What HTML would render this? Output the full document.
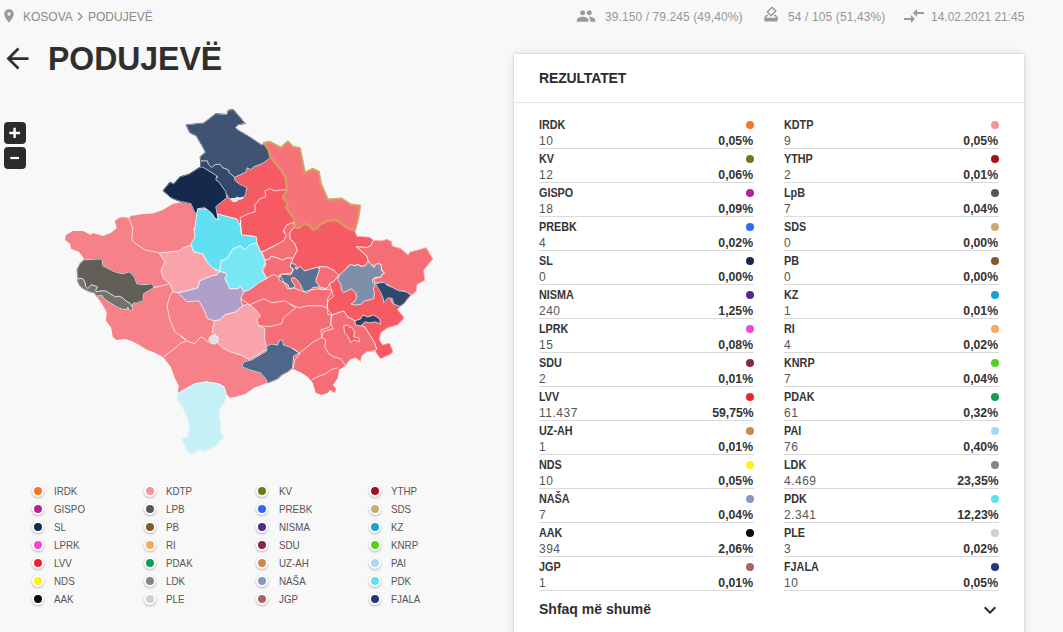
<!DOCTYPE html>
<html lang="sq"><head><meta charset="utf-8"><title>PODUJEVË</title>
<style>
*{box-sizing:border-box;margin:0;padding:0}
html,body{width:1063px;height:632px;overflow:hidden;background:#f8f8f8;font-family:"Liberation Sans",sans-serif;color:#333}
body{position:relative}
.abs{position:absolute}
.crumb{position:absolute;left:22px;top:10px;font-size:12px;color:#8a8a8a;white-space:nowrap;line-height:14px}
.crumb b{font-weight:normal;display:inline-block}
.stat{position:absolute;top:9.500px;font-size:12px;color:#969696;white-space:nowrap;line-height:14px}
h1{position:absolute;left:48px;top:38px;font-size:34px;line-height:40px;font-weight:bold;color:#2f2f2f;white-space:nowrap;transform-origin:0 0;transform:scaleX(0.94)}
.card{position:absolute;left:514px;top:54px;width:510px;height:600px;background:#fff;box-shadow:0 0 2px rgba(0,0,0,.2),0 0 9px rgba(0,0,0,.10)}
.ttl{position:absolute;left:539px;top:69.500px;letter-spacing:-0.15px;font-size:14px;line-height:16px;font-weight:bold;color:#2b2b2b;white-space:nowrap}
.hr{position:absolute;left:514px;top:102px;width:510px;height:1px;background:#e2e2e2}
.it{position:absolute;width:215px;height:34px;border-bottom:1px solid #dadada}
.it span{position:absolute;font-size:12px;line-height:14px;white-space:nowrap}
.nm{left:0;top:3px;font-weight:bold;color:#363636;transform-origin:0 50%;transform:scaleX(0.9)}
.vl{left:0;top:19px;color:#555;letter-spacing:0.5px}
.pc{right:0.5px;top:19px;font-weight:bold;color:#333;transform-origin:100% 50%;transform:scaleX(1.02)}
.dt{position:absolute;right:0;top:6px;width:8px;height:8px;border-radius:50%}
.more{position:absolute;left:539px;top:600px;font-size:14px;line-height:18px;font-weight:bold;color:#2e2e2e;white-space:nowrap}
.lg{position:absolute;height:16px;white-space:nowrap}
.lg i{position:absolute;top:2px;width:12px;height:12px;border-radius:50%;border:2px solid #fff;box-shadow:0 1px 2.500px rgba(0,0,0,.28)}
.lg span{position:absolute;top:1px;font-size:11px;line-height:14px;color:#555;transform-origin:0 50%;transform:scaleX(0.89)}
.zb{position:absolute;left:4px;width:22px;height:22px;border-radius:4px;background:#2b2b2b;color:#fff}
</style></head><body>
<!-- top bar -->
<svg class="abs" style="left:1.1px;top:7.8px" width="16" height="16" viewBox="0 0 24 24"><path fill="#9a9a9a" d="M12 2C8.130 2 5 5.130 5 9c0 5.250 7 13 7 13s7-7.750 7-13c0-3.870-3.130-7-7-7zm0 9.500a2.500 2.500 0 0 1 0-5 2.500 2.500 0 0 1 0 5z"/></svg>
<div class="crumb" style="left:23px">KOSOVA</div><svg class="abs" style="left:76px;top:11px" width="8" height="11" viewBox="0 0 8 11"><path d="M2 1.500l4 4-4 4" fill="none" stroke="#8e8e8e" stroke-width="1.300"/></svg><div class="crumb" style="left:88px">PODUJEVË</div>
<svg class="abs" style="left:576px;top:6.100px" width="20" height="20" viewBox="0 0 24 24"><path fill="#9a9a9a" d="M16 11c1.660 0 2.990-1.340 2.990-3S17.660 5 16 5c-1.660 0-3 1.340-3 3s1.340 3 3 3zm-8 0c1.660 0 2.990-1.340 2.990-3S9.660 5 8 5C6.340 5 5 6.340 5 8s1.340 3 3 3zm0 2c-2.330 0-7 1.170-7 3.500V19h14v-2.500c0-2.330-4.670-3.500-7-3.500zm8 0c-.29 0-.62.020-.97.050 1.160.84 1.970 1.970 1.970 3.450V19h6v-2.500c0-2.330-4.670-3.500-7-3.500z"/></svg>
<svg class="abs" style="left:762px;top:5.300px" width="18" height="18" viewBox="0 0 24 24"><path fill="#9a9a9a" d="M18 13h-.68l-2 2h1.910L19 17H5l1.780-2h2.050l-2-2H6l-3 3v4c0 1.100.89 2 1.990 2H19c1.100 0 2-.89 2-2v-4l-3-3zm-1-5.050l-4.950 4.950-3.540-3.540 4.950-4.950L17 7.950zm-4.240-5.660L6.390 8.660c-.39.39-.39 1.020 0 1.410l4.950 4.950c.39.39 1.020.39 1.410 0l6.360-6.360c.39-.39.39-1.020 0-1.410L14.160 2.300c-.38-.4-1.010-.4-1.400-.01z"/></svg>
<svg class="abs" style="left:902px;top:4.100px" width="24" height="24" viewBox="0 0 24 24"><path fill="#9a9a9a" d="M9.010 14H2v2h7.010v3L13 15l-3.990-4v3zm5.980-1v-3H22V8h-7.010V5L11 9l3.990 4z"/></svg>
<div class="stat" style="left:605px;letter-spacing:0.09px">39.150 / 79.245 (49,40%)</div>
<div class="stat" style="left:788px;letter-spacing:0.12px">54 / 105 (51,43%)</div>
<div class="stat" style="left:931px">14.02.2021 21:45</div>
<h1>PODUJEVË</h1>
<svg class="abs" style="left:1.3px;top:41.9px" width="33" height="33" viewBox="0 0 24 24"><path fill="#2f2f2f" d="M20 11H7.830l5.590-5.590L12 4l-8 8 8 8 1.410-1.410L7.830 13H20v-2z"/></svg>
<!-- zoom buttons -->
<div class="zb" style="top:122px"><svg width="22" height="22"><path d="M5.300 11h10.800M10.600 5.700v10.400" stroke="#fff" stroke-width="2.400"/></svg></div>
<div class="zb" style="top:147px"><svg width="22" height="22"><path d="M6.300 11h8.700" stroke="#fff" stroke-width="2.200"/></svg></div>
<!-- map -->
<svg class="abs" style="left:0;top:0" width="500" height="470" viewBox="0 0 500 470">
<defs><clipPath id="sil"><path d="M185.9,124.9 L203.8,122.9 L215.8,113.6 L226.8,114.4 L228.2,110 L233.4,109.6 L245.3,123.5 L237.8,124.9 L235.4,127.9 L237.8,129.9 L249.7,136.9 L261.7,144.9 L263.9,143 L269.9,142 L280.9,147.9 L287.9,141.6 L292.9,147 L299.8,148.3 L304.8,172.9 L312.8,168.9 L318.8,171.9 L320.8,183.8 L327.8,199.8 L341.7,198.8 L350.7,204.8 L360.1,205.8 L357.7,219.7 L354.7,230.7 L357,236.3 L369.1,237 L373.6,240 L381.1,240.8 L387.1,239.3 L391.6,241.5 L392.4,246 L400.6,248.3 L408.1,255.1 L409.6,252 L426.2,247.5 L432.9,258.8 L423.9,270.1 L424.7,280.6 L417.2,284.4 L416.4,291.1 L411.9,294.9 L406.6,300.1 L400.6,306.1 L397.6,309.7 L403.5,316.7 L403.6,318.9 L397.6,324.9 L387.6,327.9 L380.6,332.9 L379.6,339.9 L382.6,344.9 L389.6,342.9 L393.2,351.9 L389.6,354.8 L380.6,358.8 L374.7,350.9 L366.7,351.9 L361.7,355.8 L360.7,361.8 L355.7,357.8 L349.7,359.8 L345.7,365.8 L338.8,369.8 L337.8,377.8 L332.8,384.8 L335.8,388.8 L334.8,392.7 L329.8,389.7 L327.8,392.7 L321.8,394.7 L315.8,392.7 L312.8,382.8 L307.8,376.8 L299.9,371.8 L292.9,368.8 L287.9,371.8 L281.9,374.8 L277.9,378.8 L267,382.8 L261.7,384.9 L253.7,387.9 L245.7,393.8 L235.8,396.8 L229.8,397.8 L225.8,392.9 L224.8,401.8 L219.8,408.8 L218.8,416.8 L220.8,423.8 L219.8,431.7 L223.8,436.7 L217.8,443.7 L208.8,449.7 L204.8,451.7 L199.9,449.7 L190.9,453.7 L186.9,450.7 L182.9,441.7 L181.9,438.7 L187.9,436.7 L189.9,427.8 L186.9,415.8 L181.9,405.8 L176.9,398.8 L177.9,393.5 L178.7,385.7 L174.7,377.8 L170.7,366.8 L163.7,357.8 L160.7,355.8 L152.7,351.8 L146.7,349.8 L138.8,344.8 L131.8,340.9 L124.8,338.9 L116.8,339.9 L112.8,336.9 L111.1,327.4 L105.9,320.5 L106.8,312.6 L101.5,303.1 L96.6,296.2 L94.3,292.8 L89,291.7 L83.7,289 L79.9,286 L77.6,281.4 L78,279 L76.9,269.8 L79.9,263.8 L83.9,259.8 L82.9,256.8 L78.9,251.8 L71,248.8 L70,243.8 L65,239.9 L66,234.9 L72.9,230.9 L82.9,230.9 L90.9,234.9 L92.9,232.9 L102.9,235.9 L110.8,232.9 L116.8,227.9 L114.8,220.9 L118.8,217.9 L122.8,216.9 L128.8,217.9 L130.8,215.9 L142.8,213.9 L152.7,213.5 L162.7,209.9 L172.7,204 L182.6,202 L190.9,203.7 L177.9,200.7 L170.9,197.7 L163,190.7 L169.9,182.2 L173.9,183.8 L179.9,176.8 L188.9,174.2 L198.9,167.8 L202.3,166.8 L200.9,159.8 L199.9,156.8 L205.4,152.3 L202.3,146.3 L197.9,138.9 L196.3,135.9 L189.9,132.9Z"/></clipPath></defs>
<path d="M185.9,124.9 L203.8,122.9 L215.8,113.6 L226.8,114.4 L228.2,110 L233.4,109.6 L245.3,123.5 L237.8,124.9 L235.4,127.9 L237.8,129.9 L249.7,136.9 L261.7,144.9 L263.9,143 L269.9,142 L280.9,147.9 L287.9,141.6 L292.9,147 L299.8,148.3 L304.8,172.9 L312.8,168.9 L318.8,171.9 L320.8,183.8 L327.8,199.8 L341.7,198.8 L350.7,204.8 L360.1,205.8 L357.7,219.7 L354.7,230.7 L357,236.3 L369.1,237 L373.6,240 L381.1,240.8 L387.1,239.3 L391.6,241.5 L392.4,246 L400.6,248.3 L408.1,255.1 L409.6,252 L426.2,247.5 L432.9,258.8 L423.9,270.1 L424.7,280.6 L417.2,284.4 L416.4,291.1 L411.9,294.9 L406.6,300.1 L400.6,306.1 L397.6,309.7 L403.5,316.7 L403.6,318.9 L397.6,324.9 L387.6,327.9 L380.6,332.9 L379.6,339.9 L382.6,344.9 L389.6,342.9 L393.2,351.9 L389.6,354.8 L380.6,358.8 L374.7,350.9 L366.7,351.9 L361.7,355.8 L360.7,361.8 L355.7,357.8 L349.7,359.8 L345.7,365.8 L338.8,369.8 L337.8,377.8 L332.8,384.8 L335.8,388.8 L334.8,392.7 L329.8,389.7 L327.8,392.7 L321.8,394.7 L315.8,392.7 L312.8,382.8 L307.8,376.8 L299.9,371.8 L292.9,368.8 L287.9,371.8 L281.9,374.8 L277.9,378.8 L267,382.8 L261.7,384.9 L253.7,387.9 L245.7,393.8 L235.8,396.8 L229.8,397.8 L225.8,392.9 L224.8,401.8 L219.8,408.8 L218.8,416.8 L220.8,423.8 L219.8,431.7 L223.8,436.7 L217.8,443.7 L208.8,449.7 L204.8,451.7 L199.9,449.7 L190.9,453.7 L186.9,450.7 L182.9,441.7 L181.9,438.7 L187.9,436.7 L189.9,427.8 L186.9,415.8 L181.9,405.8 L176.9,398.8 L177.9,393.5 L178.7,385.7 L174.7,377.8 L170.7,366.8 L163.7,357.8 L160.7,355.8 L152.7,351.8 L146.7,349.8 L138.8,344.8 L131.8,340.9 L124.8,338.9 L116.8,339.9 L112.8,336.9 L111.1,327.4 L105.9,320.5 L106.8,312.6 L101.5,303.1 L96.6,296.2 L94.3,292.8 L89,291.7 L83.7,289 L79.9,286 L77.6,281.4 L78,279 L76.9,269.8 L79.9,263.8 L83.9,259.8 L82.9,256.8 L78.9,251.8 L71,248.8 L70,243.8 L65,239.9 L66,234.9 L72.9,230.9 L82.9,230.9 L90.9,234.9 L92.9,232.9 L102.9,235.9 L110.8,232.9 L116.8,227.9 L114.8,220.9 L118.8,217.9 L122.8,216.9 L128.8,217.9 L130.8,215.9 L142.8,213.9 L152.7,213.5 L162.7,209.9 L172.7,204 L182.6,202 L190.9,203.7 L177.9,200.7 L170.9,197.7 L163,190.7 L169.9,182.2 L173.9,183.8 L179.9,176.8 L188.9,174.2 L198.9,167.8 L202.3,166.8 L200.9,159.8 L199.9,156.8 L205.4,152.3 L202.3,146.3 L197.9,138.9 L196.3,135.9 L189.9,132.9Z" fill="#f78188"/>
<path d="M185.9,124.9 L203.8,122.9 L215.8,113.6 L226.8,114.4 L228.2,110 L233.4,109.6 L245.3,123.5 L237.8,124.9 L235.4,127.9 L237.8,129.9 L249.7,136.9 L261.7,144.9 L266.1,143.5 L271.1,150.5 L271.3,157 L262.7,163.4 L253.7,166.8 L250.7,169.8 L247.3,167.8 L245.7,172.2 L235.8,176.8 L234.4,177.1 L229.2,172.8 L228.2,169.9 L222.5,167.6 L219.7,164.2 L215.4,164.7 L211.6,167.6 L208.3,164.2 L207.3,160.9 L200.7,160.9 L199.9,156.8 L205.4,152.3 L202.3,146.3 L197.9,138.9 L196.3,135.9 L189.9,132.9Z" fill="#3f5372" stroke="#3f5372" stroke-width="0.7" stroke-linejoin="round"/>
<path d="M200.7,160.9 L207.3,160.9 L208.3,164.2 L211.6,167.6 L215.4,164.7 L219.7,164.2 L222.5,167.6 L228.2,169.9 L229.2,172.8 L234.4,177.1 L234.9,180.4 L239.6,184.2 L246.8,187.5 L245.8,193.2 L244.4,197 L241.5,199.4 L236.8,197.5 L234.9,198.4 L230.1,198.9 L227.8,197 L227.3,195.1 L222.5,192.3 L218.3,185.1 L214.9,180.4 L217.8,176.6 L200.7,166.6Z" fill="#34486b" stroke="#34486b" stroke-width="0.7" stroke-linejoin="round"/>
<path d="M202.3,166.8 L216.8,175.8 L215.8,179.8 L218.8,181.8 L225.8,191.7 L226.8,197.7 L215.8,206.7 L217.8,217.7 L216.8,219.7 L209.8,213.7 L204.8,207.7 L197.9,208.7 L197.5,212.7 L194.9,212.7 L190.9,203.7 L177.9,200.7 L170.9,197.7 L163,190.7 L169.9,182.2 L173.9,183.8 L179.9,176.8 L188.9,174.2 L198.9,167.8Z" fill="#15294d" stroke="#15294d" stroke-width="0.7" stroke-linejoin="round"/>
<path d="M83.9,259.8 L101.9,258.8 L102.9,265.8 L114.8,271.8 L122.8,273.8 L129.8,271.8 L134.8,277.8 L136.8,283.7 L143.8,284.7 L152.7,283.7 L153.7,287.7 L143.8,293.7 L142.8,301.7 L138.4,301.9 L136.9,303.4 L134.6,302.7 L132.3,304.2 L133.1,309.1 L132.3,307.2 L130,303.4 L126.2,301.2 L122.4,297.7 L118.6,296.2 L115.6,297 L110.3,293.9 L105.7,290.9 L102.7,290.9 L96.2,291.7 L95.5,289.8 L97.7,287.1 L95.8,286.3 L91.3,284.8 L87.9,288.6 L85.6,286.3 L84.8,282.2 L82.9,278.7 L79.1,278.4 L78,279 L76.9,269.8 L79.9,263.8Z" fill="#615f57" stroke="#615f57" stroke-width="0.7" stroke-linejoin="round"/>
<path d="M78,279 L79.1,278.4 L82.9,278.7 L84.8,282.2 L85.6,286.3 L87.9,288.6 L91.3,284.8 L95.8,286.3 L97.7,287.1 L95.5,289.8 L96.2,291.7 L102.7,290.9 L105.7,290.9 L110.3,293.9 L115.6,297 L118.6,296.2 L122.4,297.7 L126.2,301.2 L130,303.4 L132.3,307.2 L133.1,309.1 L130,311.4 L127.8,307.2 L127,309.5 L123.2,309.5 L117.1,307.2 L111,303.4 L105,299.6 L101.9,295.5 L96.6,296.2 L94.3,292.8 L89,291.7 L83.7,289 L79.9,286 L77.6,281.4Z" fill="#73726c" stroke="#73726c" stroke-width="0.7" stroke-linejoin="round"/>
<path d="M177.9,393.5 L183.9,389.9 L194.9,383.9 L205.8,381.9 L218.8,383.9 L223.8,386.9 L225.8,392.9 L224.8,401.8 L219.8,408.8 L218.8,416.8 L220.8,423.8 L219.8,431.7 L223.8,436.7 L217.8,443.7 L208.8,449.7 L204.8,451.7 L199.9,449.7 L190.9,453.7 L186.9,450.7 L182.9,441.7 L181.9,438.7 L187.9,436.7 L189.9,427.8 L186.9,415.8 L181.9,405.8 L176.9,398.8 L177.9,393.5Z" fill="#c5f0f8" stroke="#c5f0f8" stroke-width="0.7" stroke-linejoin="round"/>
<path d="M241.7,366.9 L243.7,361.9 L251.7,359.9 L261.7,354 L266.7,351 L266.7,346 L271.7,344 L277.6,345 L279.6,340 L282.6,340 L283.6,345 L289.6,347 L299.6,353 L293.6,356 L292.6,367.9 L287.6,371.9 L281.6,374.9 L277.6,378.9 L267.7,382.9 L265.7,378.9 L260.7,372.9 L249.7,369.9Z" fill="#50658a" stroke="#50658a" stroke-width="0.7" stroke-linejoin="round"/>
<path d="M375.3,283.6 L380.4,282.8 L384.7,282.4 L386.4,284.9 L393.2,287.9 L399.2,290.9 L403.5,291.3 L407.4,292.6 L410.8,295.2 L406.9,299.4 L403.5,303.7 L399.7,306.3 L396.2,305 L393.7,303.7 L392.4,298.6 L389,297.7 L386.8,298.6 L383.8,302.9 L383,297.7 L380.4,291.8 L377.9,287.9Z" fill="#2f486b" stroke="#2f486b" stroke-width="0.7" stroke-linejoin="round"/>
<g clip-path="url(#sil)" stroke="#fff" stroke-width="0.9" stroke-linejoin="round" stroke-opacity="0.8">
<path d="M225,200 L228,245 L243,272 L222,300 L236,335 L268,362 L272,400 L470,400 L470,100 L225,100Z" fill="#f66e75"/>
<path d="M269.7,156.8 L269.9,155.9 L280.9,169.9 L285.9,177.9 L286.9,189.8 L282.9,197.8 L287.9,203.8 L285.9,206.8 L288.9,211.8 L293.8,217.8 L294.8,222.7 L287.9,224.7 L282.9,231.7 L287.9,234.7 L282.9,241.7 L263.9,250.7 L260.7,251.9 L256.7,242.9 L253.7,236 L240.7,235 L240.7,220 L240.5,225.9 L236.5,218.9 L224.5,215.9 L217.5,213.9 L217.8,217.7 L215.8,206.7 L226.8,197.7 L229.8,179.8 L235.8,176.8 L245.7,172.2 L247.3,167.8 L250.7,169.8 L253.7,166.8 L262.7,163.4Z" fill="#f65a63"/>
<path d="M294.8,222.7 L295.8,227.7 L299.8,227.7 L303.8,223.7 L308.8,224.7 L312.8,229.7 L316.8,228.7 L319.8,224.7 L327.8,220.7 L335.7,219.7 L348.7,228.7 L354.7,230.7 L357,236.3 L369.1,237 L373.6,240 L370.6,246 L366.8,247.5 L356.3,246.8 L366.8,255.8 L368.3,261.1 L367.6,264.8 L362.3,266.3 L357,264.1 L354.8,265.6 L349.5,264.8 L338.3,278.3 L334.1,270.6 L326.6,266.8 L319.1,266.8 L316.1,267.6 L309.4,269.8 L303.3,271.3 L300.3,266.8 L295.1,269.1 L295.8,266.8 L293.6,263.8 L290.6,264.6 L292.8,258.6 L294.3,255.6 L297.3,250.3 L294.3,242.8 L289.8,239 L289.8,232.3 L295.1,226.3 L292.8,222.5Z" fill="#f65a63"/>
<path d="M338.7,275.1 L334.1,281.1 L329.6,283.4 L331.9,291.6 L327.4,299.1 L327.8,314 L331.8,315 L343.7,311 L347.7,317 L353.7,319.9 L358.7,324.9 L364.7,326.9 L369.7,334.9 L374.7,342.9 L376.6,348.9 L374.7,350.9 L380.6,358.8 L389.6,354.8 L393.2,351.9 L389.6,342.9 L382.6,344.9 L379.6,339.9 L380.6,332.9 L387.6,327.9 L397.6,324.9 L403.6,318.9 L403.5,316.7 L397.6,309.7 L400.6,306.1 L393.1,303.9 L381.8,282.1 L375.1,274.6 L360.1,270.1Z" fill="#f65a63"/>
<path d="M286.8,224.8 L292.8,222.5 L295.1,226.3 L289.8,232.3 L289.8,239 L294.3,242.8 L297.3,250.3 L294.3,255.6 L292.8,258.6 L287.6,257.8 L282.3,260.1 L277,257.8 L271,256.3 L269.5,259.3 L265,260.1 L262,251.8 L265,251.1 L283.8,240.5 L286.1,236 L283.8,230Z" fill="#f66e75"/>
<path d="M265,260.1 L269.5,259.3 L271,256.3 L277,257.8 L282.3,260.1 L287.6,257.8 L292.8,258.6 L290.6,264.6 L292.8,268.3 L292.1,272.9 L280.1,274.4 L278.5,277.4 L274,274.4 L266.5,278.1 L262.8,270.6 L265.8,265.3Z" fill="#f66e75"/>
<path d="M319.1,266.8 L326.6,266.8 L334.1,270.6 L338.7,275.1 L334.1,281.1 L329.6,283.4 L328.1,287.1 L325.1,288.9 L320.6,287.9 L316.9,284.9 L315.4,280.4 L316.9,275.1 L319.1,269.1Z" fill="#f66e75"/>
<path d="M356.3,246.8 L366.8,247.5 L370.6,246 L373.6,240 L381.1,240.8 L387.1,239.3 L391.6,241.5 L392.4,246 L400.6,248.3 L408.1,255.1 L409.6,252 L426.2,247.5 L432.9,258.8 L423.9,270.1 L424.7,280.6 L417.2,284.4 L416.4,291.1 L411.9,294.9 L403.6,290.4 L397.6,291.1 L390.1,285.9 L381.8,282.1 L375.1,282.9 L373.6,279.1 L381.1,276.8 L381.8,273.8 L384.1,273.1 L381.1,268.6 L381.1,264.1 L376.6,264.1 L375.1,265.6 L370.6,264.8 L368.3,261.1 L366.8,255.8Z" fill="#f66e75"/>
<path d="M331.8,315 L343.7,311 L347.7,317 L353.7,319.9 L358.7,324.9 L364.7,326.9 L369.7,334.9 L374.7,342.9 L376.6,348.9 L374.7,350.9 L366.7,351.9 L361.7,355.8 L360.7,361.8 L355.7,357.8 L349.7,359.8 L345.7,365.8 L340.7,358.8 L333.8,356.8 L328.8,353.8 L324.8,346.9 L325.8,339.9 L321.8,336.9 L320.8,329.9 L327.8,327.9 L330.8,324.9Z" fill="#f66e75"/>
<path d="M343.7,325.9 L347.7,324.9 L349.7,327.9 L351.7,326.9 L354.7,331.9 L353.7,336.9 L358.7,337.9 L359.7,341.9 L353.7,339.9 L350.7,342.9 L347.7,335.9 L344.7,332.9Z" fill="#f65a63"/>
<path d="M159,252.9 L168.9,251.9 L178.9,250.9 L182.9,247.9 L190.9,244.9 L193.9,251.9 L202.9,253.9 L207.8,262.9 L214.8,269.9 L219.8,271.5 L216.8,274.8 L211.8,275.8 L199.9,280.8 L197.9,287.8 L182.9,291.8 L177.9,292.8 L172.9,291.8 L169.9,283.8 L163,277.8 L161,269.9 L165,261.9Z" fill="#f9a4aa"/>
<path d="M213.8,320.7 L219.8,319.7 L224.8,314.7 L235.8,311.7 L242.7,305.8 L247.7,303.8 L253.7,307.8 L260.7,315.7 L256.7,319.7 L258.7,325.7 L264.7,328.7 L264.7,339.7 L267,349.8 L262.4,351.8 L249.5,359.8 L242.5,355.8 L230.5,351.8 L222.5,347.8 L217.5,342.9 L217.5,336.9 L212.6,332.9 L212.6,327.9 L214.6,320.9Z" fill="#f9a4aa"/>
<path d="M185.9,124.9 L203.8,122.9 L215.8,113.6 L226.8,114.4 L228.2,110 L233.4,109.6 L245.3,123.5 L237.8,124.9 L235.4,127.9 L237.8,129.9 L249.7,136.9 L261.7,144.9 L266.1,143.5 L271.1,150.5 L271.3,157 L262.7,163.4 L253.7,166.8 L250.7,169.8 L247.3,167.8 L245.7,172.2 L235.8,176.8 L234.4,177.1 L229.2,172.8 L228.2,169.9 L222.5,167.6 L219.7,164.2 L215.4,164.7 L211.6,167.6 L208.3,164.2 L207.3,160.9 L200.7,160.9 L199.9,156.8 L205.4,152.3 L202.3,146.3 L197.9,138.9 L196.3,135.9 L189.9,132.9Z" fill="#3f5372" stroke="#3f5372" stroke-width="1" stroke-opacity="1"/>
<path d="M185.9,124.9 L203.8,122.9 L215.8,113.6 L226.8,114.4 L228.2,110 L233.4,109.6 L245.3,123.5 L237.8,124.9 L235.4,127.9 L237.8,129.9 L249.7,136.9 L261.7,144.9 L266.1,143.5 L271.1,150.5 L271.3,157 L262.7,163.4 L253.7,166.8 L250.7,169.8 L247.3,167.8 L245.7,172.2 L235.8,176.8 L234.4,177.1 L229.2,172.8 L228.2,169.9 L222.5,167.6 L219.7,164.2 L215.4,164.7 L211.6,167.6 L208.3,164.2 L207.3,160.9 L200.7,160.9 L199.9,156.8 L205.4,152.3 L202.3,146.3 L197.9,138.9 L196.3,135.9 L189.9,132.9Z" fill="#3f5372"/>
<path d="M200.7,160.9 L207.3,160.9 L208.3,164.2 L211.6,167.6 L215.4,164.7 L219.7,164.2 L222.5,167.6 L228.2,169.9 L229.2,172.8 L234.4,177.1 L234.9,180.4 L239.6,184.2 L246.8,187.5 L245.8,193.2 L244.4,197 L241.5,199.4 L236.8,197.5 L234.9,198.4 L230.1,198.9 L227.8,197 L227.3,195.1 L222.5,192.3 L218.3,185.1 L214.9,180.4 L217.8,176.6 L200.7,166.6Z" fill="#34486b" stroke="#34486b" stroke-width="1" stroke-opacity="1"/>
<path d="M200.7,160.9 L207.3,160.9 L208.3,164.2 L211.6,167.6 L215.4,164.7 L219.7,164.2 L222.5,167.6 L228.2,169.9 L229.2,172.8 L234.4,177.1 L234.9,180.4 L239.6,184.2 L246.8,187.5 L245.8,193.2 L244.4,197 L241.5,199.4 L236.8,197.5 L234.9,198.4 L230.1,198.9 L227.8,197 L227.3,195.1 L222.5,192.3 L218.3,185.1 L214.9,180.4 L217.8,176.6 L200.7,166.6Z" fill="#34486b"/>
<path d="M202.3,166.8 L216.8,175.8 L215.8,179.8 L218.8,181.8 L225.8,191.7 L226.8,197.7 L215.8,206.7 L217.8,217.7 L216.8,219.7 L209.8,213.7 L204.8,207.7 L197.9,208.7 L197.5,212.7 L194.9,212.7 L190.9,203.7 L177.9,200.7 L170.9,197.7 L163,190.7 L169.9,182.2 L173.9,183.8 L179.9,176.8 L188.9,174.2 L198.9,167.8Z" fill="#15294d" stroke="#15294d" stroke-width="1" stroke-opacity="1"/>
<path d="M202.3,166.8 L216.8,175.8 L215.8,179.8 L218.8,181.8 L225.8,191.7 L226.8,197.7 L215.8,206.7 L217.8,217.7 L216.8,219.7 L209.8,213.7 L204.8,207.7 L197.9,208.7 L197.5,212.7 L194.9,212.7 L190.9,203.7 L177.9,200.7 L170.9,197.7 L163,190.7 L169.9,182.2 L173.9,183.8 L179.9,176.8 L188.9,174.2 L198.9,167.8Z" fill="#15294d"/>
<path d="M197.6,208.9 L206.6,208.9 L212.6,213.9 L214.6,217.9 L218.5,219.9 L217.5,213.9 L224.5,215.9 L236.5,218.9 L240.5,225.9 L241.5,234.9 L256.4,236.9 L256.7,242.9 L249.7,244.9 L244.7,249.9 L240.7,245.9 L232.8,248.9 L229.8,253.9 L226.8,258.9 L220.8,260.9 L219.8,270.9 L213.8,268.9 L207.8,262.9 L202.9,253.9 L193.9,251.9 L190.9,243.9 L194.9,237 L193.9,228 L194.6,229.9Z" fill="#62e0f3"/>
<path d="M220.8,260.9 L226.8,258.9 L229.8,253.9 L232.8,248.9 L240.7,245.9 L244.7,249.9 L249.7,244.9 L256.7,242.9 L260.7,251.9 L265.7,262.9 L261.7,269.9 L266.7,278.8 L258.7,282.8 L249.7,289.8 L243.7,291.8 L240.7,286.8 L237.8,288.8 L229.8,288.8 L224.8,278.8 L226.8,273.8 L219.8,270.9Z" fill="#79e8f6"/>
<path d="M177.9,292.8 L182.9,291.8 L197.9,287.8 L199.9,280.8 L211.8,275.8 L216.8,274.8 L219.8,271.5 L226.8,273.8 L224.8,278.8 L229.8,288.8 L237.8,288.8 L240.7,286.8 L243.7,291.8 L240.7,298.8 L242.7,305.8 L235.8,311.7 L224.8,314.7 L219.8,319.7 L213.8,320.7 L207.8,318.7 L202.9,307.8 L198.9,300.8 L186.9,301.8Z" fill="#b0a0c9"/>
<path d="M83.9,259.8 L101.9,258.8 L102.9,265.8 L114.8,271.8 L122.8,273.8 L129.8,271.8 L134.8,277.8 L136.8,283.7 L143.8,284.7 L152.7,283.7 L153.7,287.7 L143.8,293.7 L142.8,301.7 L138.4,301.9 L136.9,303.4 L134.6,302.7 L132.3,304.2 L133.1,309.1 L132.3,307.2 L130,303.4 L126.2,301.2 L122.4,297.7 L118.6,296.2 L115.6,297 L110.3,293.9 L105.7,290.9 L102.7,290.9 L96.2,291.7 L95.5,289.8 L97.7,287.1 L95.8,286.3 L91.3,284.8 L87.9,288.6 L85.6,286.3 L84.8,282.2 L82.9,278.7 L79.1,278.4 L78,279 L76.9,269.8 L79.9,263.8Z" fill="#615f57" stroke="#615f57" stroke-width="1" stroke-opacity="1"/>
<path d="M83.9,259.8 L101.9,258.8 L102.9,265.8 L114.8,271.8 L122.8,273.8 L129.8,271.8 L134.8,277.8 L136.8,283.7 L143.8,284.7 L152.7,283.7 L153.7,287.7 L143.8,293.7 L142.8,301.7 L138.4,301.9 L136.9,303.4 L134.6,302.7 L132.3,304.2 L133.1,309.1 L132.3,307.2 L130,303.4 L126.2,301.2 L122.4,297.7 L118.6,296.2 L115.6,297 L110.3,293.9 L105.7,290.9 L102.7,290.9 L96.2,291.7 L95.5,289.8 L97.7,287.1 L95.8,286.3 L91.3,284.8 L87.9,288.6 L85.6,286.3 L84.8,282.2 L82.9,278.7 L79.1,278.4 L78,279 L76.9,269.8 L79.9,263.8Z" fill="#615f57"/>
<path d="M78,279 L79.1,278.4 L82.9,278.7 L84.8,282.2 L85.6,286.3 L87.9,288.6 L91.3,284.8 L95.8,286.3 L97.7,287.1 L95.5,289.8 L96.2,291.7 L102.7,290.9 L105.7,290.9 L110.3,293.9 L115.6,297 L118.6,296.2 L122.4,297.7 L126.2,301.2 L130,303.4 L132.3,307.2 L133.1,309.1 L130,311.4 L127.8,307.2 L127,309.5 L123.2,309.5 L117.1,307.2 L111,303.4 L105,299.6 L101.9,295.5 L96.6,296.2 L94.3,292.8 L89,291.7 L83.7,289 L79.9,286 L77.6,281.4Z" fill="#73726c" stroke="#73726c" stroke-width="1" stroke-opacity="1"/>
<path d="M78,279 L79.1,278.4 L82.9,278.7 L84.8,282.2 L85.6,286.3 L87.9,288.6 L91.3,284.8 L95.8,286.3 L97.7,287.1 L95.5,289.8 L96.2,291.7 L102.7,290.9 L105.7,290.9 L110.3,293.9 L115.6,297 L118.6,296.2 L122.4,297.7 L126.2,301.2 L130,303.4 L132.3,307.2 L133.1,309.1 L130,311.4 L127.8,307.2 L127,309.5 L123.2,309.5 L117.1,307.2 L111,303.4 L105,299.6 L101.9,295.5 L96.6,296.2 L94.3,292.8 L89,291.7 L83.7,289 L79.9,286 L77.6,281.4Z" fill="#73726c"/>
<path d="M177.9,393.5 L183.9,389.9 L194.9,383.9 L205.8,381.9 L218.8,383.9 L223.8,386.9 L225.8,392.9 L224.8,401.8 L219.8,408.8 L218.8,416.8 L220.8,423.8 L219.8,431.7 L223.8,436.7 L217.8,443.7 L208.8,449.7 L204.8,451.7 L199.9,449.7 L190.9,453.7 L186.9,450.7 L182.9,441.7 L181.9,438.7 L187.9,436.7 L189.9,427.8 L186.9,415.8 L181.9,405.8 L176.9,398.8 L177.9,393.5Z" fill="#c5f0f8" stroke="#c5f0f8" stroke-width="1" stroke-opacity="1"/>
<path d="M177.9,393.5 L183.9,389.9 L194.9,383.9 L205.8,381.9 L218.8,383.9 L223.8,386.9 L225.8,392.9 L224.8,401.8 L219.8,408.8 L218.8,416.8 L220.8,423.8 L219.8,431.7 L223.8,436.7 L217.8,443.7 L208.8,449.7 L204.8,451.7 L199.9,449.7 L190.9,453.7 L186.9,450.7 L182.9,441.7 L181.9,438.7 L187.9,436.7 L189.9,427.8 L186.9,415.8 L181.9,405.8 L176.9,398.8 L177.9,393.5Z" fill="#c5f0f8"/>
<path d="M241.7,366.9 L243.7,361.9 L251.7,359.9 L261.7,354 L266.7,351 L266.7,346 L271.7,344 L277.6,345 L279.6,340 L282.6,340 L283.6,345 L289.6,347 L299.6,353 L293.6,356 L292.6,367.9 L287.6,371.9 L281.6,374.9 L277.6,378.9 L267.7,382.9 L265.7,378.9 L260.7,372.9 L249.7,369.9Z" fill="#50658a" stroke="#50658a" stroke-width="1" stroke-opacity="1"/>
<path d="M241.7,366.9 L243.7,361.9 L251.7,359.9 L261.7,354 L266.7,351 L266.7,346 L271.7,344 L277.6,345 L279.6,340 L282.6,340 L283.6,345 L289.6,347 L299.6,353 L293.6,356 L292.6,367.9 L287.6,371.9 L281.6,374.9 L277.6,378.9 L267.7,382.9 L265.7,378.9 L260.7,372.9 L249.7,369.9Z" fill="#50658a"/>
<path d="M290.3,265 L291.9,263.6 L295.3,264.3 L296.3,266.3 L295.3,268.3 L296.6,269.3 L300.3,266.3 L304.6,271 L309.9,269.3 L316.5,267.6 L319.5,268.3 L318.5,273 L316.5,277.6 L315.9,281.6 L317.9,284.3 L318.9,286.9 L323.2,287.9 L326.2,288.6 L323.2,289.6 L319.2,288.2 L316.5,287.2 L312.6,287.6 L310.6,290.2 L307.2,292.9 L304.6,292.2 L301.9,288.2 L300.3,284.3 L297.9,280.9 L295.3,278.3 L292.6,277.3 L291.3,278.6 L291.9,281.6 L294.6,284.9 L294.9,286.9 L291.3,289.2 L289.3,288.2 L288,284.6 L284.3,282.9 L282,281.6 L279,279.9 L279.3,277.3 L282.3,274.3 L286.6,274.6 L290.6,274.9 L292.3,272.3 L293.6,269.3 L292.6,268 L290.6,267.6Z" fill="#5a7090"/>
<path d="M337.7,279.8 L339,275.5 L350.5,264.4 L355.6,266.1 L356.9,264.4 L361.6,266.5 L365.9,265.3 L367.6,261.4 L370.2,263.1 L371.9,265.7 L374,267.8 L375.3,264.4 L379.1,263.5 L381.3,266.1 L381.3,270.4 L384.7,273.4 L381.7,274.2 L381.3,276.8 L374.4,277.6 L372.3,279.8 L372.7,282.4 L375.3,284.5 L373.2,289.2 L374.4,292.6 L373.6,298.6 L367.6,300.3 L363.8,301.2 L361.6,304.1 L355.6,305 L350.9,304.1 L354.8,301.2 L356.9,297.3 L355.6,292.6 L351.4,288.8 L343.7,292.6 L341.5,290 L341.1,284.9Z" fill="#7d8fa9"/>
<path d="M375.3,283.6 L380.4,282.8 L384.7,282.4 L386.4,284.9 L393.2,287.9 L399.2,290.9 L403.5,291.3 L407.4,292.6 L410.8,295.2 L406.9,299.4 L403.5,303.7 L399.7,306.3 L396.2,305 L393.7,303.7 L392.4,298.6 L389,297.7 L386.8,298.6 L383.8,302.9 L383,297.7 L380.4,291.8 L377.9,287.9Z" fill="#2f486b" stroke="#2f486b" stroke-width="1" stroke-opacity="1"/>
<path d="M375.3,283.6 L380.4,282.8 L384.7,282.4 L386.4,284.9 L393.2,287.9 L399.2,290.9 L403.5,291.3 L407.4,292.6 L410.8,295.2 L406.9,299.4 L403.5,303.7 L399.7,306.3 L396.2,305 L393.7,303.7 L392.4,298.6 L389,297.7 L386.8,298.6 L383.8,302.9 L383,297.7 L380.4,291.8 L377.9,287.9Z" fill="#2f486b"/>
<path d="M354.7,320.9 L360.7,318.9 L362.7,315 L367.7,317 L373.7,315 L379.6,318.9 L380.6,323.9 L375.6,321.9 L369.7,322.9 L364.7,321.9 L360.7,325.9 L355.7,324.9Z" fill="#2c4166"/>
<path d="M230.6,198.9 L233,201.8 L236.8,201.3 L238.7,199.4 L242.5,198.4 L243.4,197 L239.6,198 L236.8,197 L235.8,198.9 L233,198.4Z" fill="#cfeaf6"/>
<circle cx="213.6" cy="339.5" r="4.6" fill="#dfdfe6"/>
<path d="M286.9,189.8 L282.9,189.8 L274.9,190.8 L269.9,188.8 L264.9,190.8 L265.9,196.8 L259.9,198.8 L255,204.8 L255,211.8 L248,213.8 L240,217.8 L241.5,234.9" fill="none"/>
<path d="M128.8,217.9 L132.8,227.9 L131.8,239.9 L134.8,242.9 L144.7,249.8 L158.7,252.8" fill="none"/>
<path d="M153.7,287.7 L162.7,285.7 L169.7,283.7" fill="none"/>
<path d="M172.9,291.8 L169.9,295.8 L167,305.8 L169.9,319.7 L174.9,331.7 L185.9,339.7 L180.6,335.9 L186.6,340.9" fill="none"/>
<path d="M163.7,356.8 L176.7,346.8 L179.7,343.8 L186.6,340.9 L194.6,343.8 L200.6,336.9 L203.6,337.9 L208.6,342.9" fill="none"/>
<path d="M240.7,298.8 L242.7,299.8 L249.7,304.8 L256.7,301.8 L263.7,298.8 L271.7,302.8 L285.6,300.8 L289.6,303.8 L298.6,307.8 L307.6,305.8 L321.5,305.8 L326.5,307.8 L328.5,299.8 L333.5,296.8 L331.5,289.8 L319.5,288.8 L311.5,289.8 L303.6,291.8 L293.6,287.8 L287.6,288.8 L282.6,279.8 L279.6,274.8" fill="none"/>
<path d="M289.6,303.8 L295.6,307.8 L289.6,312.7 L283.6,317.7 L281.6,323.7 L269.7,326.7 L258.7,325.7" fill="none"/>
<path d="M326.5,307.8 L331.5,313.7 L330.5,323.7 L333.5,328.7 L323.5,331.7 L321.5,337.7 L313.5,341.7 L299.6,353" fill="none"/>
<path d="M311.5,379.9 L319.5,375.9 L325.5,373.9 L330.5,369.9 L337.5,367.9" fill="none"/>
<path d="M292.9,368.8 L294.9,359.8 L299.9,353.8 L292.9,347.9" fill="none"/>
</g>
<path d="M263.9,143 L269.9,142 L280.9,147.9 L287.9,141.6 L292.9,147 L299.8,148.3 L304.8,172.9 L312.8,168.9 L318.8,171.9 L320.8,183.8 L327.8,199.8 L341.7,198.8 L350.7,204.8 L360.1,205.8 L357.7,219.7 L354.7,230.7 L348.7,228.7 L335.7,219.7 L327.8,220.7 L319.8,224.7 L316.8,228.7 L312.8,229.7 L308.8,224.7 L303.8,223.7 L299.8,227.7 L295.8,227.7 L293.8,217.8 L288.9,211.8 L285.9,206.8 L287.9,203.8 L282.9,197.8 L286.9,189.8 L285.9,177.9 L280.9,169.9 L269.9,155.9 L268.9,150.9Z" fill="#f6737a" stroke="#d29f5e" stroke-width="2.400" stroke-opacity="0.85" stroke-linejoin="round"/>
</svg>
<!-- legend -->
<div class="lg" style="left:0;top:483px"><i style="left:32.1px;background:#f47721"></i><span style="left:54px">IRDK</span></div>
<div class="lg" style="left:0;top:501px"><i style="left:32.1px;background:#b5219b"></i><span style="left:54px">GISPO</span></div>
<div class="lg" style="left:0;top:519px"><i style="left:32.1px;background:#15294d"></i><span style="left:54px">SL</span></div>
<div class="lg" style="left:0;top:537px"><i style="left:32.1px;background:#ee48d8"></i><span style="left:54px">LPRK</span></div>
<div class="lg" style="left:0;top:555px"><i style="left:32.1px;background:#ee2430"></i><span style="left:54px">LVV</span></div>
<div class="lg" style="left:0;top:573px"><i style="left:32.1px;background:#fdf21c"></i><span style="left:54px">NDS</span></div>
<div class="lg" style="left:0;top:591px"><i style="left:32.1px;background:#0a0a0a"></i><span style="left:54px">AAK</span></div>
<div class="lg" style="left:0;top:483px"><i style="left:143.8px;background:#f0959b"></i><span style="left:166.2px">KDTP</span></div>
<div class="lg" style="left:0;top:501px"><i style="left:143.8px;background:#54565e"></i><span style="left:166.2px">LPB</span></div>
<div class="lg" style="left:0;top:519px"><i style="left:143.8px;background:#7d5a2c"></i><span style="left:166.2px">PB</span></div>
<div class="lg" style="left:0;top:537px"><i style="left:143.8px;background:#f7a85a"></i><span style="left:166.2px">RI</span></div>
<div class="lg" style="left:0;top:555px"><i style="left:143.8px;background:#0f9d58"></i><span style="left:166.2px">PDAK</span></div>
<div class="lg" style="left:0;top:573px"><i style="left:143.8px;background:#858585"></i><span style="left:166.2px">LDK</span></div>
<div class="lg" style="left:0;top:591px"><i style="left:143.8px;background:#cfcfcf"></i><span style="left:166.2px">PLE</span></div>
<div class="lg" style="left:0;top:483px"><i style="left:256.4px;background:#6b7a1c"></i><span style="left:278.7px">KV</span></div>
<div class="lg" style="left:0;top:501px"><i style="left:256.4px;background:#3366f5"></i><span style="left:278.7px">PREBK</span></div>
<div class="lg" style="left:0;top:519px"><i style="left:256.4px;background:#54298a"></i><span style="left:278.7px">NISMA</span></div>
<div class="lg" style="left:0;top:537px"><i style="left:256.4px;background:#8a2252"></i><span style="left:278.7px">SDU</span></div>
<div class="lg" style="left:0;top:555px"><i style="left:256.4px;background:#c8894a"></i><span style="left:278.7px">UZ-AH</span></div>
<div class="lg" style="left:0;top:573px"><i style="left:256.4px;background:#8399bd"></i><span style="left:278.7px">NAŠA</span></div>
<div class="lg" style="left:0;top:591px"><i style="left:256.4px;background:#a86464"></i><span style="left:278.7px">JGP</span></div>
<div class="lg" style="left:0;top:483px"><i style="left:369.0px;background:#a5101f"></i><span style="left:391.1px">YTHP</span></div>
<div class="lg" style="left:0;top:501px"><i style="left:369.0px;background:#c9aa72"></i><span style="left:391.1px">SDS</span></div>
<div class="lg" style="left:0;top:519px"><i style="left:369.0px;background:#1a9fd6"></i><span style="left:391.1px">KZ</span></div>
<div class="lg" style="left:0;top:537px"><i style="left:369.0px;background:#55cf22"></i><span style="left:391.1px">KNRP</span></div>
<div class="lg" style="left:0;top:555px"><i style="left:369.0px;background:#a9d8f2"></i><span style="left:391.1px">PAI</span></div>
<div class="lg" style="left:0;top:573px"><i style="left:369.0px;background:#5fe1f2"></i><span style="left:391.1px">PDK</span></div>
<div class="lg" style="left:0;top:591px"><i style="left:369.0px;background:#24367a"></i><span style="left:391.1px">FJALA</span></div>
<!-- card -->
<div class="card"></div>
<div class="ttl">REZULTATET</div>
<div class="hr"></div>
<div class="it" style="left:539px;top:115px"><span class="nm">IRDK</span><i class="dt" style="background:#f47721"></i><span class="vl">10</span><span class="pc">0,05%</span></div>
<div class="it" style="left:539px;top:149px"><span class="nm">KV</span><i class="dt" style="background:#6b7a1c"></i><span class="vl">12</span><span class="pc">0,06%</span></div>
<div class="it" style="left:539px;top:183px"><span class="nm">GISPO</span><i class="dt" style="background:#b5219b"></i><span class="vl">18</span><span class="pc">0,09%</span></div>
<div class="it" style="left:539px;top:217px"><span class="nm">PREBK</span><i class="dt" style="background:#3366f5"></i><span class="vl">4</span><span class="pc">0,02%</span></div>
<div class="it" style="left:539px;top:251px"><span class="nm">SL</span><i class="dt" style="background:#15294d"></i><span class="vl">0</span><span class="pc">0,00%</span></div>
<div class="it" style="left:539px;top:285px"><span class="nm">NISMA</span><i class="dt" style="background:#54298a"></i><span class="vl">240</span><span class="pc">1,25%</span></div>
<div class="it" style="left:539px;top:319px"><span class="nm">LPRK</span><i class="dt" style="background:#ee48d8"></i><span class="vl">15</span><span class="pc">0,08%</span></div>
<div class="it" style="left:539px;top:353px"><span class="nm">SDU</span><i class="dt" style="background:#8a2252"></i><span class="vl">2</span><span class="pc">0,01%</span></div>
<div class="it" style="left:539px;top:387px"><span class="nm">LVV</span><i class="dt" style="background:#ee2430"></i><span class="vl">11.437</span><span class="pc">59,75%</span></div>
<div class="it" style="left:539px;top:421px"><span class="nm">UZ-AH</span><i class="dt" style="background:#c8894a"></i><span class="vl">1</span><span class="pc">0,01%</span></div>
<div class="it" style="left:539px;top:455px"><span class="nm">NDS</span><i class="dt" style="background:#fdf21c"></i><span class="vl">10</span><span class="pc">0,05%</span></div>
<div class="it" style="left:539px;top:489px"><span class="nm">NAŠA</span><i class="dt" style="background:#8399bd"></i><span class="vl">7</span><span class="pc">0,04%</span></div>
<div class="it" style="left:539px;top:523px"><span class="nm">AAK</span><i class="dt" style="background:#0a0a0a"></i><span class="vl">394</span><span class="pc">2,06%</span></div>
<div class="it" style="left:539px;top:557px"><span class="nm">JGP</span><i class="dt" style="background:#a86464"></i><span class="vl">1</span><span class="pc">0,01%</span></div>
<div class="it" style="left:784px;top:115px"><span class="nm">KDTP</span><i class="dt" style="background:#f0959b"></i><span class="vl">9</span><span class="pc">0,05%</span></div>
<div class="it" style="left:784px;top:149px"><span class="nm">YTHP</span><i class="dt" style="background:#a5101f"></i><span class="vl">2</span><span class="pc">0,01%</span></div>
<div class="it" style="left:784px;top:183px"><span class="nm">LpB</span><i class="dt" style="background:#54565e"></i><span class="vl">7</span><span class="pc">0,04%</span></div>
<div class="it" style="left:784px;top:217px"><span class="nm">SDS</span><i class="dt" style="background:#c9aa72"></i><span class="vl">0</span><span class="pc">0,00%</span></div>
<div class="it" style="left:784px;top:251px"><span class="nm">PB</span><i class="dt" style="background:#7d5a2c"></i><span class="vl">0</span><span class="pc">0,00%</span></div>
<div class="it" style="left:784px;top:285px"><span class="nm">KZ</span><i class="dt" style="background:#1a9fd6"></i><span class="vl">1</span><span class="pc">0,01%</span></div>
<div class="it" style="left:784px;top:319px"><span class="nm">RI</span><i class="dt" style="background:#f7a85a"></i><span class="vl">4</span><span class="pc">0,02%</span></div>
<div class="it" style="left:784px;top:353px"><span class="nm">KNRP</span><i class="dt" style="background:#55cf22"></i><span class="vl">7</span><span class="pc">0,04%</span></div>
<div class="it" style="left:784px;top:387px"><span class="nm">PDAK</span><i class="dt" style="background:#0f9d58"></i><span class="vl">61</span><span class="pc">0,32%</span></div>
<div class="it" style="left:784px;top:421px"><span class="nm">PAI</span><i class="dt" style="background:#a9d8f2"></i><span class="vl">76</span><span class="pc">0,40%</span></div>
<div class="it" style="left:784px;top:455px"><span class="nm">LDK</span><i class="dt" style="background:#858585"></i><span class="vl">4.469</span><span class="pc">23,35%</span></div>
<div class="it" style="left:784px;top:489px"><span class="nm">PDK</span><i class="dt" style="background:#5fe1f2"></i><span class="vl">2.341</span><span class="pc">12,23%</span></div>
<div class="it" style="left:784px;top:523px"><span class="nm">PLE</span><i class="dt" style="background:#cfcfcf"></i><span class="vl">3</span><span class="pc">0,02%</span></div>
<div class="it" style="left:784px;top:557px"><span class="nm">FJALA</span><i class="dt" style="background:#24367a"></i><span class="vl">10</span><span class="pc">0,05%</span></div>
<div class="more">Shfaq më shumë</div>
<svg class="abs" style="left:978px;top:597.9px" width="24" height="24" viewBox="0 0 24 24"><path fill="#2b2b2b" d="M16.590 8.590L12 13.170 7.410 8.590 6 10l6 6 6-6z"/></svg>
</body></html>
